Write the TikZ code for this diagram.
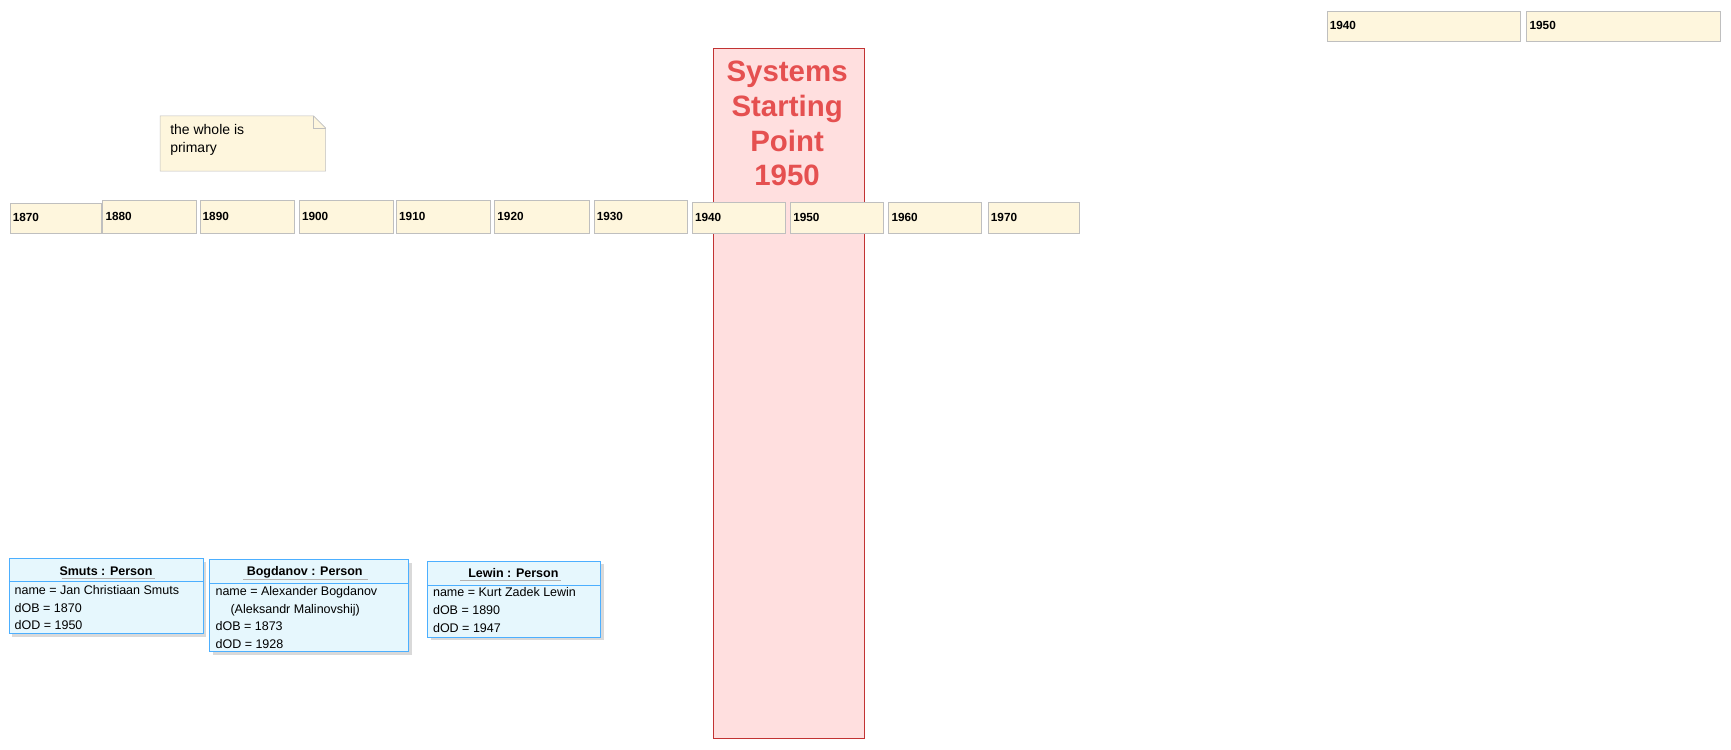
\documentclass[tikz,border=0pt]{standalone}
\usepackage{fontspec}
\setmainfont{Liberation Sans}
\begin{document}
\begin{tikzpicture}[x=0.75pt,y=-0.75pt,
  yr/.style={draw=black!25,fill=yellow!50!orange!12},
  yt/.style={anchor=west,font=\fontsize{8}{9}\selectfont\bfseries,inner sep=1pt},
  pb/.style={draw=blue!45!cyan!70,fill=cyan!10},
  pt/.style={anchor=north west,font=\fontsize{8.5}{12}\selectfont,inner sep=0pt,align=left}]
\useasboundingbox (0,0) rectangle (1568,679);
% red band
\draw[draw=red!70!black!80,fill=red!8!pink!40] (646,44) rectangle (783,669);
\node[align=center,font=\fontsize{20}{23.5}\selectfont\bfseries,text=red!65!white!90!black] (title) at (713,112) {Systems\\Starting\\Point\\1950};
% years row
\foreach \n/\a/\b/\t in {a/9/92/184,b/93/178/181,c/181/267/181,d/271/356/181,e/359/444/181,f/448/534/181,g/538/623/181,h/627/711/183,i/716/800/183,j/805/889/183,k/895/978/183}{
  \draw[yr] (\a,\t) rectangle (\b,211);}
\foreach \n/\a/\y/\l in {a/9/197/1870,b/93/196/1880,c/181/196/1890,d/271/196/1900,e/359/196/1910,f/448/196/1920,g/538/196/1930,h/627/197/1940,i/716/197/1950,j/805/197/1960,k/895/197/1970}{
  \node[yt] (y\n) at (\a+1,\y) {\l};}
\draw[yr] (1202,10) rectangle (1377,37);
\draw[yr] (1383,10) rectangle (1558,37);
\node[yt] (t1) at (1203,23) {1940};
\node[yt] (t2) at (1384,23) {1950};
% note
\draw[yr] (145,105) -- (284,105) -- (295,116) -- (295,155) -- (145,155) -- cycle;
\draw[black!25] (284,105) -- (284,116) -- (295,116);
\node[pt,font=\fontsize{9.5}{12.5}\selectfont] (note) at (154,112) {the whole is\\primary};
% persons
\foreach \a/\b/\t/\m/\bo in {8/184/506/527/574,190/370/507/528/590,387/544/508/530/577}{
  \fill[black!15] (\a+3,\t+3) rectangle (\b+3,\bo+3);
  \draw[pb] (\a,\t) rectangle (\b,\bo);
  \draw[blue!45!cyan!70] (\a,\m) -- (\b,\m);}
\node[font=\fontsize{8.5}{10}\selectfont\bfseries] (s) at (96,517) {Smuts : Person};
\draw[black!30] (56,524) -- (140,524);
\node[pt] (sa) at (13,530) {name = Jan Christiaan Smuts\\dOB = 1870\\dOD = 1950};
\node[font=\fontsize{8.5}{10}\selectfont\bfseries] (b) at (276,518) {Bogdanov : Person};
\draw[black!30] (220,525) -- (333,525);
\node[pt] (ba) at (195,531) {name = Alexander Bogdanov\\\hspace{1.2em}(Aleksandr Malinovshij)\\dOB = 1873\\dOD = 1928};
\node[font=\fontsize{8.5}{10}\selectfont\bfseries] (l) at (465,519) {Lewin : Person};
\draw[black!30] (417,526) -- (508,526);
\node[pt] (la) at (392,532) {name = Kurt Zadek Lewin\\dOB = 1890\\dOD = 1947};
\end{tikzpicture}
\end{document}
